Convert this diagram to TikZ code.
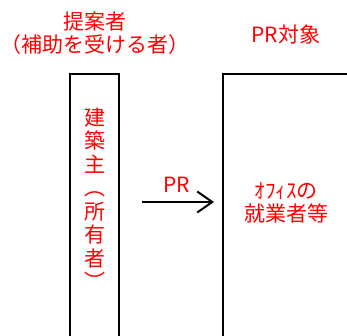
\documentclass[tikz,border=0pt]{standalone}
\usepackage{fontspec}
\setmainfont{Noto Sans CJK JP}
\usetikzlibrary{arrows.meta}
\begin{document}
\begin{tikzpicture}[x=1pt,y=-1pt,
  lbl/.style={text=red,font=\fontsize{21pt}{23pt}\selectfont,inner sep=0pt,align=center},
  frame/.style={draw=black,line width=1.6pt},
  prarrow/.style={line width=2pt,-{Straight Barb[length=15pt,width=21pt,line width=2pt]}}]
\useasboundingbox[fill=white] (0,0) rectangle (347,335);
\draw[frame] (70,345) coordinate (lb) -- (70,74) coordinate (lt) -- (119,74) coordinate (rt) -- (119,345) coordinate (rb);
\draw[frame] (223,345) coordinate (b2) -- (223,74) coordinate (t2) -- (360,74) coordinate (e2);
\node[lbl] (t1) at (95,22) {提案者};
\node[lbl] (t1b) at (95,45) {（補助を受ける者）};
\node[lbl] (t2l) at (286,35) {PR対象};
\node[lbl,font=\fontsize{21pt}{23.5pt}\selectfont] (owner) at (95,199) {建\\築\\主\\︵\\所\\有\\者\\︶};
\node[lbl] (tgt) at (286,203) {ｵﾌｨｽの\\就業者等};
\coordinate (a1) at (142,202);
\coordinate (a2) at (214,202);
\draw[prarrow] (a1) -- (a2);
\node[lbl] (pr) at (177,185) {PR};
\end{tikzpicture}
\end{document}
